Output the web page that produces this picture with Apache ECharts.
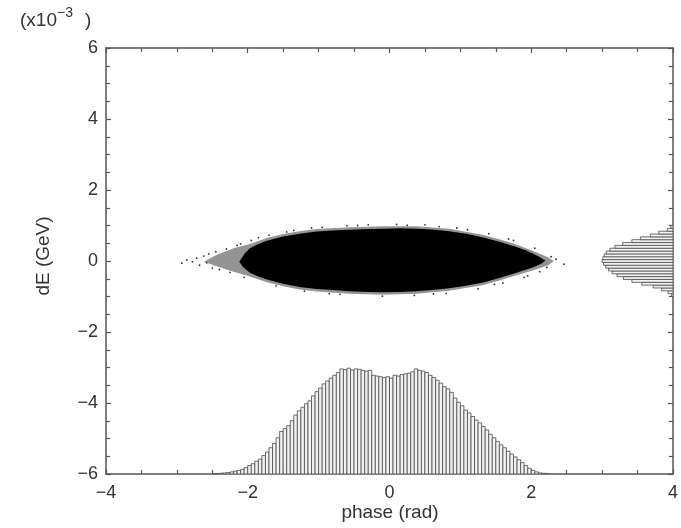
<!DOCTYPE html>
<html>
<head>
<meta charset="utf-8">
<title>Longitudinal phase space</title>
<script src="https://cdn.jsdelivr.net/npm/echarts@6/dist/echarts.min.js"></script>
<style>
  html, body { margin: 0; padding: 0; background: #fff; }
  #chart { width: 681px; height: 528px; }
</style>
</head>
<body>
<div id="chart"></div>
<script>
// Axis ranges and tick values
const phaseRange = [-4, 4];
const dERange = [-6, 6];          // in units of 1e-3 GeV
const phaseTicks = [-4, -2, 0, 2, 4];
const dETicks = [-6, -4, -2, 0, 2, 4, 6];

// Projected phase histogram (bin width 0.05 rad starting at -2.5),
// heights expressed in dE-axis units above the lower frame edge
const phaseBinStart = -2.5;
const phaseBinWidth = 0.05;
const phaseHist = [
  0.01, 0.01, 0.02, 0.03, 0.04, 0.06, 0.08, 0.10, 0.13, 0.18,
  0.24, 0.29, 0.36, 0.42, 0.52, 0.62, 0.74, 0.86, 1.02, 1.20,
  1.28, 1.36, 1.50, 1.66, 1.78, 1.88, 1.98, 2.06, 2.20, 2.32,
  2.42, 2.54, 2.62, 2.70, 2.78, 2.86, 2.96, 2.94, 2.98, 2.93,
  2.96, 2.95, 2.92, 2.90, 2.92, 2.78, 2.76, 2.74, 2.72, 2.74,
  2.70, 2.78, 2.76, 2.80, 2.82, 2.84, 2.88, 2.96, 2.92, 2.90,
  2.86, 2.78, 2.72, 2.64, 2.56, 2.46, 2.40, 2.30, 2.14, 2.02,
  1.92, 1.80, 1.72, 1.62, 1.52, 1.44, 1.34, 1.24, 1.12, 1.02,
  0.92, 0.82, 0.74, 0.64, 0.56, 0.48, 0.40, 0.32, 0.24, 0.16,
  0.10, 0.06, 0.03, 0.02, 0.01
];

// Projected dE histogram (bin width 0.08e-3 GeV starting at -1.0e-3),
// lengths expressed in phase-axis units from the right frame edge
const dEBinStart = -1.0;
const dEBinWidth = 0.08;
const dEHist = [
  0.02, 0.07, 0.16, 0.28, 0.44, 0.58, 0.70, 0.79, 0.86, 0.91,
  0.95, 0.98, 1.00, 0.99, 0.97, 0.94, 0.89, 0.82, 0.71, 0.58,
  0.46, 0.32, 0.20, 0.08, 0.03
];

// Outline of the saturated particle core [phase, dE]
const coreOutline = [
  [-2.12, -0.02], [-2.04, 0.22], [-1.97, 0.36], [-1.85, 0.48], [-1.73, 0.57],
  [-1.50, 0.69], [-1.27, 0.77], [-1.03, 0.83], [-0.80, 0.86], [-0.56, 0.88],
  [-0.30, 0.90], [-0.09, 0.91], [0.15, 0.92], [0.38, 0.91], [0.60, 0.89],
  [0.84, 0.84], [1.08, 0.77], [1.31, 0.67], [1.55, 0.54], [1.78, 0.40],
  [1.92, 0.30], [2.02, 0.21], [2.12, 0.11], [2.20, 0.01], [2.14, -0.08],
  [2.02, -0.18], [1.78, -0.34], [1.55, -0.48], [1.31, -0.61], [1.08, -0.70],
  [0.84, -0.77], [0.60, -0.82], [0.38, -0.85], [0.15, -0.87], [-0.09, -0.88],
  [-0.30, -0.87], [-0.56, -0.85], [-0.80, -0.82], [-1.03, -0.79], [-1.27, -0.73],
  [-1.50, -0.64], [-1.73, -0.52], [-1.85, -0.44], [-1.97, -0.33], [-2.06, -0.18]
];

// Outline of the sparser fringe around the core [phase, dE]
const haloOutline = [
  [-2.62, -0.02], [-2.45, 0.16], [-2.20, 0.36], [-1.97, 0.48], [-1.73, 0.65],
  [-1.50, 0.76], [-1.27, 0.84], [-1.03, 0.90], [-0.56, 0.95], [-0.09, 0.98],
  [0.38, 0.98], [0.84, 0.91], [1.31, 0.74], [1.55, 0.61], [1.78, 0.47],
  [2.02, 0.29], [2.22, 0.12], [2.32, 0.00], [2.24, -0.12], [2.02, -0.27],
  [1.78, -0.41], [1.55, -0.55], [1.31, -0.68], [0.84, -0.84], [0.38, -0.92],
  [-0.09, -0.95], [-0.56, -0.92], [-1.03, -0.86], [-1.27, -0.80], [-1.50, -0.71],
  [-1.73, -0.60], [-1.97, -0.44], [-2.20, -0.30], [-2.45, -0.14]
];

// Isolated macro-particles outside the fringe [phase, dE]
const strayParticles = [
  [-2.93, -0.06], [-2.86, 0.03], [-2.78, -0.02], [-2.72, 0.08], [-2.68, -0.12],
  [-2.62, 0.14], [-2.58, -0.05], [-2.55, 0.20], [-2.50, -0.20], [-2.45, 0.26],
  [-2.40, -0.24], [-2.30, 0.34], [-2.25, -0.32], [-2.15, 0.44], [-2.05, -0.46],
  [-2.10, 0.48], [-1.95, 0.58], [-1.85, 0.66], [-1.70, 0.73], [-1.60, -0.70],
  [-1.45, 0.82], [-1.35, 0.86], [-1.20, -0.85], [-1.10, 0.93], [-0.95, 0.95],
  [-0.85, -0.92], [-0.70, -0.94], [-0.60, 0.99], [-0.45, 1.00], [-0.30, 1.02],
  [-0.10, -0.99], [0.10, 1.03], [0.25, 1.01], [0.35, -0.97], [0.50, 1.02],
  [0.62, -0.93], [0.70, 0.97], [0.80, -0.91], [0.95, 0.93], [1.10, 0.88],
  [1.25, -0.78], [1.40, 0.77], [1.48, -0.66], [1.60, -0.62], [1.68, 0.62],
  [1.75, 0.58], [1.90, -0.46], [1.95, -0.42], [2.05, 0.36], [2.12, -0.30],
  [2.22, -0.18], [2.28, 0.12], [2.35, 0.05], [2.46, -0.09]
];

const FONT = '"Liberation Sans", Arial, sans-serif';
const TEXT = '#333';
const FRAME = '#555';

const minus = v => String(v).replace('-', '\u2212');

function polygonSeries(points, fill) {
  return {
    type: 'custom',
    xAxisIndex: 0, yAxisIndex: 0,
    clip: true,
    silent: true,
    data: [0],
    renderItem: (params, api) => ({
      type: 'polygon',
      shape: { points: points.map(p => api.coord(p)) },
      style: { fill: fill, stroke: null }
    })
  };
}

const phaseBars = phaseHist.map((h, i) => [phaseBinStart + i * phaseBinWidth, h]);
const dEBars = dEHist.map((w, i) => [dEBinStart + i * dEBinWidth, w]);

const barStyle = { fill: '#f2f2f2', stroke: '#4a4a4a', lineWidth: 0.8 };

const chart = echarts.init(document.getElementById('chart'), null, { renderer: 'canvas' });

const axisCommon = {
  type: 'value',
  axisLine: { show: true, onZero: false, lineStyle: { color: FRAME, width: 1.5 } },
  axisTick: { show: true, inside: true, length: 5, lineStyle: { color: FRAME, width: 1.2 } },
  minorTick: { show: true, splitNumber: 4, length: 4, lineStyle: { color: FRAME, width: 1.2 } },
  splitLine: { show: false },
  minorSplitLine: { show: false }
};

chart.setOption({
  backgroundColor: '#fff',
  animation: false,
  grid: { left: 106, top: 48, width: 569, height: 426, containLabel: false },
  xAxis: [
    Object.assign({}, axisCommon, {
      position: 'bottom', min: phaseRange[0], max: phaseRange[1], interval: 2,
      axisLabel: {
        show: true, margin: 10, color: TEXT, fontFamily: FONT, fontSize: 18,
        formatter: v => phaseTicks.includes(v) ? minus(v) : ''
      }
    }),
    Object.assign({}, axisCommon, {
      position: 'top', min: phaseRange[0], max: phaseRange[1], interval: 2,
      axisLabel: { show: false }
    })
  ],
  yAxis: [
    Object.assign({}, axisCommon, {
      position: 'left', min: dERange[0], max: dERange[1], interval: 2,
      axisLabel: {
        show: true, margin: 8, color: TEXT, fontFamily: FONT, fontSize: 18,
        formatter: v => dETicks.includes(v) ? minus(v) : ''
      }
    }),
    Object.assign({}, axisCommon, {
      position: 'right', min: dERange[0], max: dERange[1], interval: 2,
      axisLabel: { show: false }
    })
  ],
  graphic: [
    { type: 'text', left: 20, top: 11,
      style: { text: '(x10', fill: TEXT, font: '19px ' + FONT } },
    { type: 'text', left: 57, top: 6,
      style: { text: '\u22123', fill: TEXT, font: '14px ' + FONT } },
    { type: 'text', left: 85, top: 11,
      style: { text: ')', fill: TEXT, font: '19px ' + FONT } },
    { type: 'text', x: 390, y: 513,
      style: { text: 'phase (rad)', fill: TEXT, font: '19px ' + FONT,
               textAlign: 'center', textVerticalAlign: 'middle' } },
    { type: 'text', x: 44, y: 256, rotation: Math.PI / 2,
      style: { text: 'dE (GeV)', fill: TEXT, font: '19px ' + FONT,
               textAlign: 'center', textVerticalAlign: 'middle' } }
  ],
  series: [
    polygonSeries(haloOutline, 'rgba(0,0,0,0.42)'),
    polygonSeries(coreOutline, '#000'),
    {
      type: 'scatter',
      xAxisIndex: 0, yAxisIndex: 0,
      symbol: 'circle', symbolSize: 1.8,
      itemStyle: { color: '#000', opacity: 0.8 },
      silent: true,
      data: strayParticles
    },
    {
      type: 'custom',
      xAxisIndex: 0, yAxisIndex: 0,
      clip: true, silent: true,
      data: phaseBars,
      renderItem: (params, api) => {
        const x0 = api.value(0), h = api.value(1);
        const a = api.coord([x0, dERange[0]]);
        const b = api.coord([x0 + phaseBinWidth, dERange[0] + h]);
        return { type: 'rect',
          shape: { x: a[0], y: b[1], width: b[0] - a[0], height: a[1] - b[1] },
          style: barStyle };
      }
    },
    {
      type: 'custom',
      xAxisIndex: 0, yAxisIndex: 0,
      clip: true, silent: true,
      data: dEBars,
      renderItem: (params, api) => {
        const y0 = api.value(0), w = api.value(1);
        const a = api.coord([phaseRange[1] - w, y0 + dEBinWidth]);
        const b = api.coord([phaseRange[1], y0]);
        return { type: 'rect',
          shape: { x: a[0], y: a[1], width: b[0] - a[0], height: b[1] - a[1] },
          style: barStyle };
      }
    }
  ]
});
</script>
</body>
</html>
